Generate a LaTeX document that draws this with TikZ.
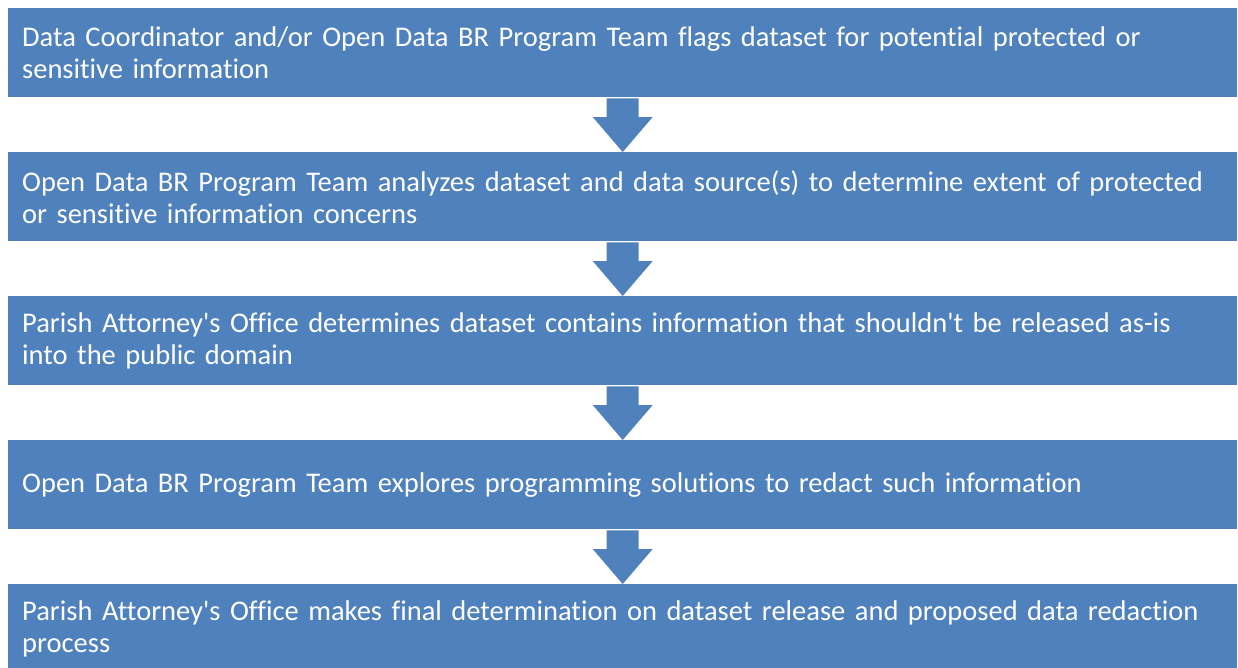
\documentclass[tikz,border=0pt]{standalone}
\usepackage{fontspec}
\setmainfont{Carlito}[Ligatures={TeXOff,CommonOff}]
\usetikzlibrary{calc}
\definecolor{boxblue}{HTML}{4F81BD}
\tikzset{
  stepbox/.style={rectangle, fill=boxblue, text=white, anchor=north west,
    minimum height=89pt, text width=1201pt, inner xsep=14pt, inner ysep=0pt,
    align=left, font=\fontsize{28.5pt}{32pt}\selectfont},
  downarrow/.style={fill=boxblue}
}
\newcommand{\flowarrow}[2]{%
  \fill[downarrow] ($(#1.south)+(-16,1)$) -- ($(#1.south)+(16,1)$)
    -- ($(#2.north)+(16,-35)$) -- ($(#2.north)+(30,-35)$) -- (#2.north)
    -- ($(#2.north)+(-30,-35)$) -- ($(#2.north)+(-16,-35)$) -- cycle;}
\begin{document}
\begin{tikzpicture}[x=1pt,y=-1pt]
\useasboundingbox (0,0) rectangle (1238,667);
\clip (0,0) rectangle (1238,667);
\node[stepbox] (b1) at (8,8) {Data Coordinator and/or Open Data BR Program Team flags dataset for potential protected or\\ sensitive information};
\node[stepbox] (b2) at (8,152) {Open Data BR Program Team analyzes dataset and data source(s) to determine extent of protected\\ or sensitive information concerns};
\node[stepbox] (b3) at (8,296) {Parish Attorney's Office determines dataset contains information that shouldn't be released as-is\\ into the public domain};
\node[stepbox] (b4) at (8,440) {Open Data BR Program Team explores programming solutions to redact such information};
\node[stepbox] (b5) at (8,584) {Parish Attorney's Office makes final determination on dataset release and proposed data redaction\\ process};
\flowarrow{b1}{b2}
\flowarrow{b2}{b3}
\flowarrow{b3}{b4}
\flowarrow{b4}{b5}
\end{tikzpicture}
\end{document}
